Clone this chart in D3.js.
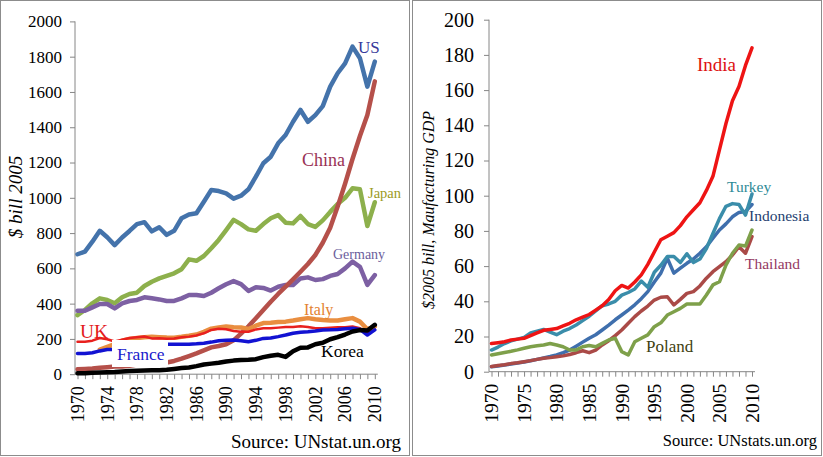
<!DOCTYPE html>
<html><head><meta charset="utf-8">
<script src="https://cdn.jsdelivr.net/npm/d3@7"></script>
<style>
body{margin:0;background:#fff;}
svg{display:block;}
svg text{font-family:"Liberation Serif","Times New Roman",serif !important;}
</style></head>
<body><svg id="c" width="823" height="457"></svg>
<script>
// ---------- DATA ----------
const years = [1970,1971,1972,1973,1974,1975,1976,1977,1978,1979,1980,1981,1982,1983,1984,1985,1986,1987,1988,1989,1990,1991,1992,1993,1994,1995,1996,1997,1998,1999,2000,2001,2002,2003,2004,2005,2006,2007,2008,2009,2010];

// Left panel ($ bill 2005)
const us      = [680,695,751,813,776,732,775,812,851,862,810,833,790,813,884,905,912,978,1044,1038,1025,995,1012,1048,1120,1196,1233,1309,1356,1431,1498,1431,1469,1520,1630,1706,1762,1857,1791,1630,1772];
const japan   = [335,364,402,430,421,402,436,455,462,500,524,543,557,572,595,651,643,670,714,761,817,875,851,821,813,851,884,902,859,855,897,851,835,872,920,965,1000,1054,1048,840,975];
const germany = [360,360,379,398,398,373,402,415,421,436,430,424,415,415,430,449,449,443,462,487,510,528,511,472,493,489,474,496,506,506,543,549,534,539,557,568,600,638,609,506,562];
const china   = [28,30,32,36,40,44,44,48,55,58,62,62,66,75,88,103,118,135,152,160,170,192,230,272,317,364,411,455,496,538,581,625,676,745,830,950,1080,1220,1350,1470,1660];
const italy   = [null,null,null,140,155,170,190,200,205,210,212,210,208,207,212,218,225,240,258,265,270,266,265,256,275,290,292,296,298,304,311,318,311,307,305,304,311,318,298,255,270];
const uk      = [184,184,190,205,198,185,195,205,210,214,203,204,201,203,209,213,220,232,251,258,255,245,241,241,254,260,260,264,268,268,272,268,260,260,264,266,266,270,260,232,251];
const france  = [118,118,122,132,140,140,148,152,158,163,168,168,170,170,170,170,172,175,182,190,192,194,190,184,192,203,205,213,222,232,238,241,245,251,252,254,257,260,254,222,251];
const korea   = [5,6,8,10,11,12,15,18,20,21,22,23,25,30,35,38,46,55,60,65,72,77,80,82,85,97,105,110,98,130,150,152,170,178,198,210,225,242,250,248,280];

// Right panel ($2005 bill, manufacturing GDP)
const india     = [16,16.5,17,18,18.5,19,20.5,22,23.5,24,24.5,26,27.5,29.5,31,32.5,35,37.5,41,46,49,47.5,51,55,61,68,75,77,79,83,88,92,96,103,111,126,141,154,162,174,184];
const turkey    = [12.3,14,16,17.5,18.5,19.5,22,23,24,22.5,21,23,24.5,26.5,29,31.5,34.5,37.5,38.5,40,43.5,45,47,51.5,48,56.5,60.5,65.5,65.5,62,67,62,64,70,78.5,87,94,95.5,95,89,101];
const indonesia = [2.8,3.2,3.8,4.4,5,5.5,6.2,7,7.8,8.6,9.5,10.8,12.3,14.5,16.8,19,21,23.7,26.5,29.5,32.2,35,38,41.5,45.5,51,56,64.5,56,58.8,61.6,64,67.3,71,75.8,80.5,84,88,90.5,91,95];
const thailand  = [3,3.5,4,4.6,5.1,5.7,6.3,7,7.6,8,8.5,9,9.8,10.8,11.9,10.8,12.3,15.2,17.6,20.5,23.7,27.5,31.3,34.5,37.3,40.7,42.3,42.6,37.9,41.1,44.5,45.5,48.7,53.1,56.8,59.7,62.5,66.3,71,67.3,76.7];
const poland    = [9.5,10.2,10.9,11.6,12.4,13.3,14.2,14.8,15.2,16,15.2,14.2,12.3,12.3,14.2,14.9,14.2,16.1,18,19,11.4,9.5,17,19,20.9,25.6,27.8,32.2,34.1,36,38.5,38.5,38.5,43.6,49.3,51.1,60.6,67.3,72,71.4,80.5];

const leftYTicks  = [0,200,400,600,800,1000,1200,1400,1600,1800,2000];
const leftXTicks  = [1970,1974,1978,1982,1986,1990,1994,1998,2002,2006,2010];
const rightYTicks = [0,20,40,60,80,100,120,140,160,180,200];
const rightXTicks = [1970,1975,1980,1985,1990,1995,2000,2005,2010];

// ---------- DRAW ----------
const svg = d3.select("#c");
const axisCol = "#868686";

// panel frames
svg.append("rect").attr("x",0.5).attr("y",0.5).attr("width",409).attr("height",455)
  .attr("fill","none").attr("stroke","#8c8c8c");
svg.append("rect").attr("x",412.5).attr("y",0.5).attr("width",409).attr("height",455)
  .attr("fill","none").attr("stroke","#8c8c8c");

function panel(opt){
  const x = d3.scaleLinear().domain([1970,2010]).range(opt.xr);
  const y = d3.scaleLinear().domain(opt.yd).range(opt.yr);
  const g = svg.append("g");
  // y axis
  const ya = g.append("g").attr("transform",`translate(${opt.axisX},0)`)
    .call(d3.axisLeft(y).tickValues(opt.yTicks).tickSize(5).tickPadding(opt.yPad).tickFormat(d3.format("d")));
  ya.select(".domain").attr("stroke",axisCol).attr("d",`M0,${opt.yr[0]}V${opt.yr[1]}`);
  ya.selectAll(".tick line").attr("stroke",axisCol);
  ya.selectAll(".tick text").attr("font-size",opt.yFont).attr("fill","#000");
  // x axis
  const xa = g.append("g").attr("transform",`translate(0,${opt.yr[0]})`)
    .call(d3.axisBottom(x).tickValues(years).tickSize(5).tickFormat(""));
  xa.select(".domain").attr("stroke",axisCol).attr("d",`M${opt.axisX},0H${opt.xr[1]+3}`);
  xa.selectAll(".tick line").attr("stroke",axisCol);
  g.append("g").selectAll("text").data(opt.xTicks).join("text")
    .attr("transform",d=>`translate(${x(d)+opt.xFont*0.35},${opt.yr[0]+opt.xLabTop}) rotate(-90)`)
    .attr("text-anchor","end").attr("font-size",opt.xFont).attr("fill","#000").text(d=>d);
  // lines
  opt.series.forEach(s=>{
    const line = d3.line().defined(d=>d[1]!=null).x(d=>x(d[0])).y(d=>y(d[1]));
    g.append("path").datum(years.map((yr,i)=>[yr,s.v[i]]))
      .attr("fill","none").attr("stroke",s.c).attr("stroke-width",s.w)
      .attr("stroke-linejoin","round").attr("stroke-linecap","round").attr("d",line);
  });
  return {x,y,g};
}

const L = panel({
  xr:[77.5,374.8], yd:[0,2000], yr:[374.2,21.4], axisX:75, yPad:8, yFont:17,
  yTicks:leftYTicks, xTicks:leftXTicks, xFont:18, xLabTop:12,
  series:[
    {v:us,c:"#4473AB",w:4.5},
    {v:japan,c:"#8DB04C",w:4.5},
    {v:germany,c:"#7D60A3",w:4.5},
    {v:china,c:"#B5504A",w:4.5},
    {v:italy,c:"#E98E40",w:4.5},
    {v:uk,c:"#E8201E",w:2.5},
    {v:france,c:"#1212D2",w:3.5},
    {v:korea,c:"#000",w:4.5}
  ]
});
const R = panel({
  xr:[491.5,752], yd:[0,200], yr:[371.7,19.7], axisX:489, yPad:10, yFont:20,
  yTicks:rightYTicks, xTicks:rightXTicks, xFont:19.5, xLabTop:12,
  series:[
    {v:indonesia,c:"#3F6FAD",w:3.5},
    {v:turkey,c:"#3A8DAA",w:3.5},
    {v:thailand,c:"#AA4A47",w:3.5},
    {v:poland,c:"#7EA04A",w:3.5},
    {v:india,c:"#EE1414",w:3.5}
  ]
});

// labels
function lab(x,y,t,c,s,bg){
  if(bg){
    svg.append("rect").attr("x",bg[0]).attr("y",bg[1]).attr("width",bg[2]).attr("height",bg[3]).attr("fill","#fff");
  }
  svg.append("text").attr("x",x).attr("y",y).attr("fill",c).attr("font-size",s).text(t);
}
lab(358,53,"US","#36389A",17);
lab(302,166,"China","#993356",18);
lab(368,198,"Japan","#9C9A24",14.5);
lab(333,259,"Germany","#6B5E9C",14);
lab(304,315,"Italy","#E38230",16);
lab(80,338,"UK","#E31A1C",19.5);
lab(117,360,"France","#1A1ACC",17.5,[112,340,56,27]);
lab(321,357,"Korea","#000",17.5);

lab(697,71,"India","#DD1111",19);
lab(727,192,"Turkey","#2D8A96",15.5);
lab(749,221,"Indonesia","#1F3F70",15.5);
lab(745,269,"Thailand","#953A63",15.5);
lab(646,352,"Poland","#3F3F10",17);

// axis titles
svg.append("text").attr("transform","translate(22,197) rotate(-90)").attr("text-anchor","middle")
  .attr("font-style","italic").attr("font-size",19).text("$ bill 2005");
svg.append("text").attr("transform","translate(434,210) rotate(-90)").attr("text-anchor","middle")
  .attr("font-style","italic").attr("font-size",16).text("$2005 bill, Maufacturing GDP");

// sources
svg.append("text").attr("x",401).attr("y",448).attr("text-anchor","end").attr("font-size",19).text("Source: UNstat.un.org");
svg.append("text").attr("x",817).attr("y",446).attr("text-anchor","end").attr("font-size",16.5).text("Source: UNstats.un.org");
</script></body></html>
